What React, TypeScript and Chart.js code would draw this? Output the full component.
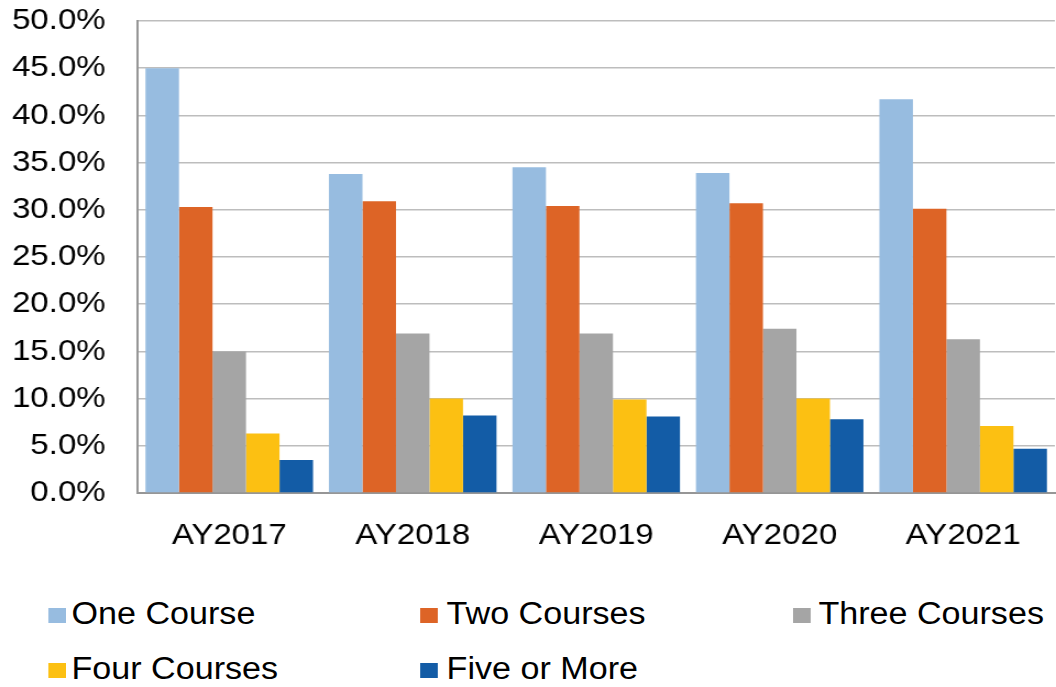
import React, { useEffect, useRef } from 'react';
import { Chart, registerables } from 'chart.js';

Chart.register(...registerables);

const categories = ['AY2017', 'AY2018', 'AY2019', 'AY2020', 'AY2021'];
const seriesNames = ['One Course', 'Two Courses', 'Three Courses', 'Four Courses', 'Five or More'];
const oneCourse = [45.0, 33.8, 34.5, 33.9, 41.7];
const twoCourses = [30.3, 30.9, 30.4, 30.7, 30.1];
const threeCourses = [15.0, 16.9, 16.9, 17.4, 16.3];
const fourCourses = [6.3, 10.0, 9.9, 10.0, 7.1];
const fiveOrMore = [3.5, 8.2, 8.1, 7.8, 4.7];
const seriesColors = ['#97BCE0', '#DD6426', '#A5A5A5', '#FCC012', '#135CA6'];
const yMin = 0;
const yMax = 50;
const yStep = 5;

const FONT = '"Liberation Sans", Arial, Helvetica, sans-serif';
const SX = 1.1;
const W = 960;
const H = 687;
const CANVAS_H = 560;

const legendPos = [
  { m: 44, t: 65, y: 0 },
  { m: 382, t: 406, y: 0 },
  { m: 721, t: 744, y: 0 },
  { m: 44, t: 65, y: 1 },
  { m: 382, t: 406, y: 1 },
];

export default function App() {
  const ref = useRef<HTMLCanvasElement | null>(null);

  useEffect(() => {
    if (!ref.current) return;
    const values = [oneCourse, twoCourses, threeCourses, fourCourses, fiveOrMore];
    const chart = new Chart(ref.current, {
      type: 'bar',
      data: {
        labels: categories,
        datasets: seriesNames.map((name, i) => ({
          label: name,
          data: values[i],
          backgroundColor: seriesColors[i],
          borderWidth: 0,
          categoryPercentage: 0.913,
          barPercentage: 1.0,
        })),
      },
      options: {
        responsive: false,
        animation: false,
        devicePixelRatio: 1,
        layout: { padding: { top: 0, left: 0, right: 1, bottom: 0 } },
        plugins: { legend: { display: false }, tooltip: { enabled: false } },
        scales: {
          x: {
            grid: { display: false, drawTicks: false },
            border: { color: '#969696', width: 2 },
            ticks: { color: '#000', font: { family: FONT, size: 30 }, padding: 25 },
            afterFit: (s: any) => { s.height = 67; },
          },
          y: {
            min: yMin,
            max: yMax,
            ticks: {
              stepSize: yStep,
              color: '#000',
              font: { family: FONT, size: 30 },
              padding: 29,
              callback: (v: any) => Number(v).toFixed(1) + '%',
            },
            grid: { color: '#BDBDBD', lineWidth: 1.5, drawTicks: false },
            border: { color: '#969696', width: 2 },
            afterFit: (s: any) => {
              s.width = 125;
              s.paddingTop = 21;
              s.paddingBottom = 0;
            },
          },
        },
      },
    });
    return () => chart.destroy();
  }, []);

  return (
    <div
      style={{
        position: 'fixed',
        left: 0,
        top: 0,
        width: W,
        height: H,
        transform: `scaleX(${SX})`,
        transformOrigin: '0 0',
        background: '#fff',
        fontFamily: FONT,
      }}
    >
      <canvas ref={ref} width={W} height={CANVAS_H} style={{ display: 'block' }} />
      {seriesNames.map((name, i) => {
        const p = legendPos[i];
        const top = 597 + p.y * 55;
        return (
          <div key={name}>
            <div
              style={{
                position: 'absolute',
                left: p.m,
                top: top + 11,
                width: 16,
                height: 15,
                background: seriesColors[i],
              }}
            />
            <div
              style={{
                position: 'absolute',
                left: p.t,
                top,
                fontSize: 31,
                lineHeight: '34px',
                color: '#000',
                whiteSpace: 'nowrap',
              }}
            >
              {name}
            </div>
          </div>
        );
      })}
    </div>
  );
}
